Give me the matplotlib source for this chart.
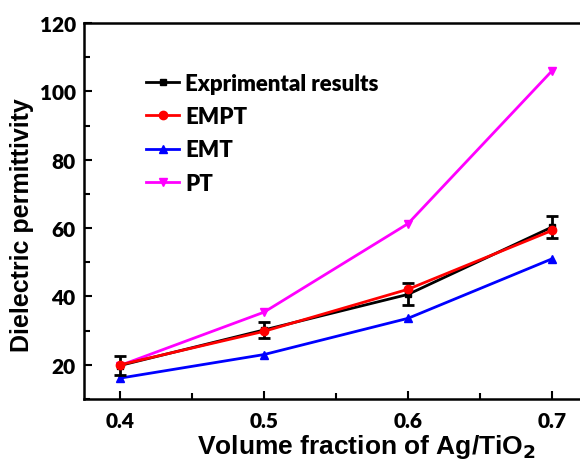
import matplotlib
matplotlib.use("Agg")
import matplotlib.pyplot as plt
from matplotlib.ticker import MultipleLocator

plt.rcParams['font.family'] = ['Lato', 'DejaVu Sans']
plt.rcParams['font.weight'] = 'bold'

x = [0.4, 0.5, 0.6, 0.7]
exp_vals = [19.8, 30.2, 40.6, 60.3]
exp_err = [2.8, 2.3, 3.2, 3.2]
empt_vals = [20.0, 29.8, 42.1, 59.3]
emt_vals = [16.1, 23.0, 33.6, 51.0]
pt_vals = [19.8, 35.4, 61.3, 106.0]
xticks = [0.4, 0.5, 0.6, 0.7]
xtick_labels = ['0.4', '0.5', '0.6', '0.7']
yticks = [20, 40, 60, 80, 100, 120]

fig = plt.figure(figsize=(5.8, 4.64), dpi=100)
W, H = 580, 464
ax = fig.add_axes([84 / W, (H - 400) / H, 576 / W, 376 / H])

eb = ax.errorbar(x, exp_vals, yerr=exp_err, color='black', marker='s', ms=5, lw=2,
                 capsize=4, capthick=2, elinewidth=2, zorder=3)
l2, = ax.plot(x, empt_vals, color='red', marker='o', ms=6, lw=2, zorder=4)
l3, = ax.plot(x, emt_vals, color='blue', marker='^', ms=6, lw=2, zorder=2)
l4, = ax.plot(x, pt_vals, color='magenta', marker='v', ms=6, lw=2, zorder=2)

ax.set_xlim(0.375, 0.775)
ax.set_ylim(10, 120)
ax.set_xticks(xticks)
ax.set_xticklabels(xtick_labels)
ax.xaxis.set_minor_locator(MultipleLocator(0.05))
ax.set_yticks(yticks)
ax.yaxis.set_minor_locator(MultipleLocator(10))
ax.tick_params(which='both', direction='in', width=1.5, labelsize=15, pad=6)
ax.tick_params(axis='x', which='both', pad=9)
ax.tick_params(which='major', length=6)
ax.tick_params(which='minor', length=4)
ax.tick_params(axis='y', right=False, which='both')
for lab in ax.get_xticklabels() + ax.get_yticklabels():
    lab.set_fontweight('heavy')
for s in ax.spines.values():
    s.set_linewidth(1.8)
ax.spines['right'].set_visible(False)

ax.set_xlabel('Volume fraction of Ag/TiO$_\\mathbf{2}$',
              family=['Liberation Sans', 'DejaVu Sans'], size=19, weight='bold')
ax.set_ylabel('Dielectric permittivity',
              family=['Liberation Sans', 'DejaVu Sans'], size=18, weight='bold')
ax.xaxis.set_label_coords((366 - 84) / 576, (400 - 433) / 376)
ax.yaxis.set_label_coords((34 - 84) / 576, (400 - 225) / 376)

leg = ax.legend([eb.lines[0], l2, l3, l4],
                ['Exprimental results', 'EMPT', 'EMT', 'PT'],
                loc='upper left', bbox_to_anchor=((146 - 84) / 576, (400 - 74) / 376),
                frameon=False, borderaxespad=0, borderpad=0,
                handlelength=1.5, handletextpad=0.25, labelspacing=0.55,
                prop={'family': ['Lato', 'DejaVu Sans'], 'weight': 'heavy', 'size': 16})

fig.savefig('out.png', dpi=100)
